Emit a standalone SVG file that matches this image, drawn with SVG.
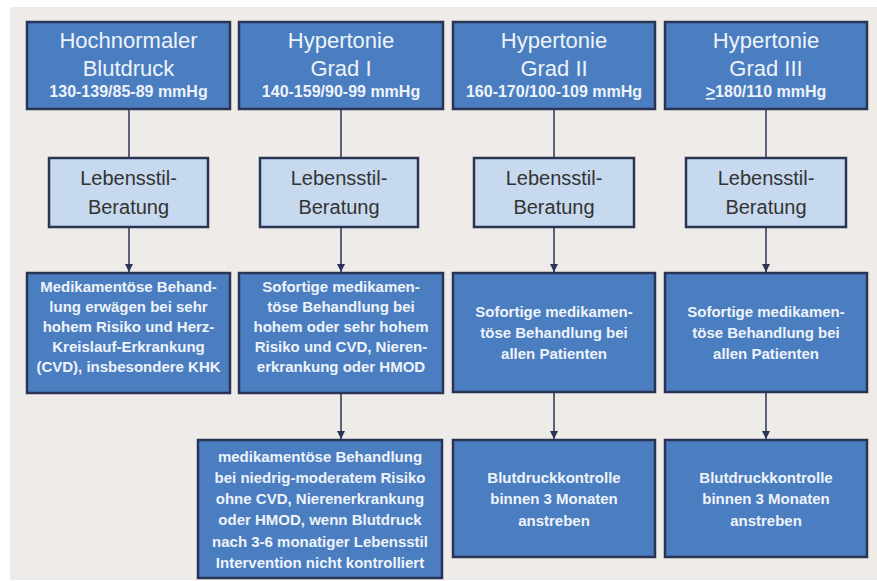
<svg xmlns="http://www.w3.org/2000/svg" width="877" height="581" viewBox="0 0 877 581">
<defs>
<style>
.bg{fill:#efebe8}
.dark{fill:#4a7ec0;stroke:#2a3454;stroke-width:2.5}
.light{fill:#c6d9ef;stroke:#2a3454;stroke-width:2.5}
.wt{font-family:"Liberation Sans",Arial,sans-serif;fill:#eef3fb;text-anchor:middle}
.h1{font-size:22px}
.h2{font-size:16px;font-weight:bold}
.lt{font-family:"Liberation Sans",Arial,sans-serif;fill:#333333;font-size:20px;text-anchor:middle}
.bt{font-size:15px;font-weight:bold}
.con{stroke:#2a3454;stroke-width:1.5;fill:none}
</style>
<marker id="arr" viewBox="0 0 8 8" refX="8" refY="4" markerWidth="8" markerHeight="8" markerUnits="userSpaceOnUse" orient="auto">
<path d="M0,0 L8,4 L0,8 z" fill="#2a3454"/>
</marker>
</defs>
<rect x="0" y="0" width="877" height="581" fill="#ffffff"/>
<rect class="bg" x="10" y="7" width="867" height="573"/>

<g id="connectors">
<line class="con" x1="129" y1="109" x2="129" y2="158"/>
<line class="con" x1="341" y1="109" x2="341" y2="158"/>
<line class="con" x1="554" y1="109" x2="554" y2="158"/>
<line class="con" x1="766" y1="109" x2="766" y2="158"/>
<line class="con" x1="129" y1="227" x2="129" y2="272" marker-end="url(#arr)"/>
<line class="con" x1="341" y1="227" x2="341" y2="272" marker-end="url(#arr)"/>
<line class="con" x1="554" y1="227" x2="554" y2="272" marker-end="url(#arr)"/>
<line class="con" x1="766" y1="227" x2="766" y2="272" marker-end="url(#arr)"/>
<line class="con" x1="341" y1="393" x2="341" y2="439" marker-end="url(#arr)"/>
<line class="con" x1="554" y1="392" x2="554" y2="439" marker-end="url(#arr)"/>
<line class="con" x1="766" y1="392" x2="766" y2="439" marker-end="url(#arr)"/>
</g>

<g id="top1">
<rect class="dark" x="27" y="22" width="203" height="87"/>
<text class="wt h1" x="128.5" y="48">Hochnormaler</text>
<text class="wt h1" x="128.5" y="76">Blutdruck</text>
<text class="wt h2" x="128.5" y="97">130-139/85-89 mmHg</text>
</g>
<g id="top2">
<rect class="dark" x="239" y="22" width="204" height="87"/>
<text class="wt h1" x="341" y="48">Hypertonie</text>
<text class="wt h1" x="341" y="76">Grad I</text>
<text class="wt h2" x="341" y="97">140-159/90-99 mmHg</text>
</g>
<g id="top3">
<rect class="dark" x="453" y="22" width="202" height="87"/>
<text class="wt h1" x="554" y="48">Hypertonie</text>
<text class="wt h1" x="554" y="76">Grad II</text>
<text class="wt h2" x="554" y="97">160-170/100-109 mmHg</text>
</g>
<g id="top4">
<rect class="dark" x="665" y="22" width="202" height="87"/>
<text class="wt h1" x="766" y="48">Hypertonie</text>
<text class="wt h1" x="766" y="76">Grad III</text>
<text class="wt h2" x="766" y="97"><tspan text-decoration="underline">&gt;</tspan>180/110 mmHg</text>
</g>

<g id="life1">
<rect class="light" x="49" y="158" width="159" height="69"/>
<text class="lt" x="128.5" y="185">Lebensstil-</text>
<text class="lt" x="128.5" y="214">Beratung</text>
</g>
<g id="life2">
<rect class="light" x="260" y="158" width="158" height="69"/>
<text class="lt" x="339" y="185">Lebensstil-</text>
<text class="lt" x="339" y="214">Beratung</text>
</g>
<g id="life3">
<rect class="light" x="474" y="158" width="160" height="69"/>
<text class="lt" x="554" y="185">Lebensstil-</text>
<text class="lt" x="554" y="214">Beratung</text>
</g>
<g id="life4">
<rect class="light" x="686" y="158" width="160" height="69"/>
<text class="lt" x="766" y="185">Lebensstil-</text>
<text class="lt" x="766" y="214">Beratung</text>
</g>

<g id="act1">
<rect class="dark" x="27" y="273" width="203" height="120"/>
<text class="wt bt" x="128.5" y="292">Medikamentöse Behand-</text>
<text class="wt bt" x="128.5" y="312">lung erwägen bei sehr</text>
<text class="wt bt" x="128.5" y="332">hohem Risiko und Herz-</text>
<text class="wt bt" x="128.5" y="352">Kreislauf-Erkrankung</text>
<text class="wt bt" x="128.5" y="372">(CVD), insbesondere KHK</text>
</g>
<g id="act2">
<rect class="dark" x="239" y="273" width="204" height="120"/>
<text class="wt bt" x="341" y="292">Sofortige medikamen-</text>
<text class="wt bt" x="341" y="312">töse Behandlung bei</text>
<text class="wt bt" x="341" y="332">hohem oder sehr hohem</text>
<text class="wt bt" x="341" y="352">Risiko und CVD, Nieren-</text>
<text class="wt bt" x="341" y="372">erkrankung oder HMOD</text>
</g>
<g id="act3">
<rect class="dark" x="453" y="273" width="202" height="119"/>
<text class="wt bt" x="554" y="317">Sofortige medikamen-</text>
<text class="wt bt" x="554" y="338">töse Behandlung bei</text>
<text class="wt bt" x="554" y="359">allen Patienten</text>
</g>
<g id="act4">
<rect class="dark" x="665" y="273" width="202" height="119"/>
<text class="wt bt" x="766" y="317">Sofortige medikamen-</text>
<text class="wt bt" x="766" y="338">töse Behandlung bei</text>
<text class="wt bt" x="766" y="359">allen Patienten</text>
</g>

<g id="low2">
<rect class="dark" x="198" y="440" width="244" height="138"/>
<text class="wt bt" x="320" y="462">medikamentöse Behandlung</text>
<text class="wt bt" x="320" y="483">bei niedrig-moderatem Risiko</text>
<text class="wt bt" x="320" y="504">ohne CVD, Nierenerkrankung</text>
<text class="wt bt" x="320" y="525">oder HMOD, wenn Blutdruck</text>
<text class="wt bt" x="320" y="547">nach 3-6 monatiger Lebensstil</text>
<text class="wt bt" x="320" y="568">Intervention nicht kontrolliert</text>
</g>
<g id="low3">
<rect class="dark" x="453" y="440" width="202" height="117"/>
<text class="wt bt" x="554" y="483">Blutdruckkontrolle</text>
<text class="wt bt" x="554" y="504">binnen 3 Monaten</text>
<text class="wt bt" x="554" y="526">anstreben</text>
</g>
<g id="low4">
<rect class="dark" x="665" y="440" width="202" height="117"/>
<text class="wt bt" x="766" y="483">Blutdruckkontrolle</text>
<text class="wt bt" x="766" y="504">binnen 3 Monaten</text>
<text class="wt bt" x="766" y="526">anstreben</text>
</g>
</svg>
